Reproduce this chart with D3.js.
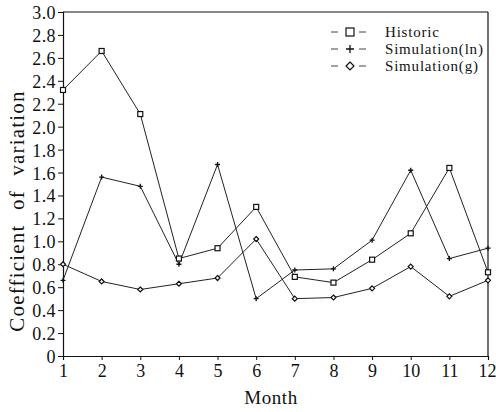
<!DOCTYPE html>
<html>
<head>
<meta charset="UTF-8" />
<script src="https://cdn.jsdelivr.net/npm/d3@7"></script>
<style>
  body { margin: 0; background: #fff; }
  text { font-family: "Liberation Serif", "DejaVu Serif", serif; fill: #111; }
</style>
</head>
<body>
<script>
    let w = 496;
    let h = 412;

    // data
    const months = [1, 2, 3, 4, 5, 6, 7, 8, 9, 10, 11, 12];
    const historic = [2.32, 2.66, 2.11, 0.85, 0.94, 1.30, 0.69, 0.64, 0.84, 1.07, 1.64, 0.73];
    const simLn = [0.66, 1.56, 1.48, 0.80, 1.67, 0.50, 0.75, 0.76, 1.01, 1.62, 0.85, 0.94];
    const simG = [0.80, 0.65, 0.58, 0.63, 0.68, 1.02, 0.50, 0.51, 0.59, 0.78, 0.52, 0.66];
    const yTicks = [0, 0.2, 0.4, 0.6, 0.8, 1.0, 1.2, 1.4, 1.6, 1.8, 2.0, 2.2, 2.4, 2.6, 2.8, 3.0];
    const seriesNames = ["Historic", "Simulation(ln)", "Simulation(g)"];

    let svg = d3.select("body").append("svg")
        .attr("width", w)
        .attr("height", h);

    let x = d3.scaleLinear().domain([1, 12]).range([63, 488]);
    let y = d3.scaleLinear().domain([0, 3]).range([356, 12]);

    // frame: top and right
    svg.append("line").attr("x1", 63).attr("x2", 488).attr("y1", 12).attr("y2", 12)
        .attr("stroke", "#111").attr("stroke-width", 1.2);
    svg.append("line").attr("x1", 488).attr("x2", 488).attr("y1", 12).attr("y2", 356)
        .attr("stroke", "#111").attr("stroke-width", 1.2);

    // axes
    let yAxis = svg.append("g")
        .attr("transform", "translate(63,0)")
        .call(d3.axisLeft(y).tickValues(yTicks).tickSize(5).tickPadding(2)
            .tickFormat(d => d === 0 ? "0" : d3.format(".1f")(d)));
    let xAxis = svg.append("g")
        .attr("transform", "translate(0,356)")
        .call(d3.axisBottom(x).tickValues(months).tickSize(4).tickPadding(4)
            .tickFormat(d3.format("d")));

    [xAxis, yAxis].forEach(a => {
        a.select(".domain").attr("stroke", "#111").attr("stroke-width", 1.2);
        a.selectAll(".tick line").attr("stroke", "#111");
        a.selectAll(".tick text")
            .attr("font-family", "'Liberation Serif', serif")
            .attr("font-size", 18)
            .attr("fill", "#111");
    });
    yAxis.selectAll(".tick text").attr("dy", "0.36em").attr("letter-spacing", 0.4);
    // keep "12" inside the picture
    xAxis.selectAll(".tick text").filter(d => d === 12).attr("dx", "-1px");

    // axis titles
    svg.append("text")
        .attr("x", 271).attr("y", 404)
        .attr("text-anchor", "middle")
        .attr("font-size", 19)
        .attr("letter-spacing", 0.6)
        .text("Month");
    svg.append("text")
        .attr("transform", "translate(24,211) rotate(-90)")
        .attr("text-anchor", "middle")
        .attr("font-size", 21)
        .attr("letter-spacing", 1.2)
        .attr("word-spacing", 8)
        .text("Coefficient of variation");

    let line = d3.line()
        .x((d, i) => x(months[i]))
        .y(d => y(d));

    let allSeries = [historic, simLn, simG];
    allSeries.forEach(s => {
        svg.append("path")
            .datum(s)
            .attr("d", line)
            .attr("fill", "none")
            .attr("stroke", "#222")
            .attr("stroke-width", 1);
    });

    // markers
    function marker(g, type, cx, cy, size) {
        if (type === 0) {
            g.append("rect").attr("x", cx - size / 2).attr("y", cy - size / 2)
                .attr("width", size).attr("height", size)
                .attr("fill", "#fff").attr("stroke", "#111").attr("stroke-width", 1.2);
        } else if (type === 1) {
            g.append("path")
                .attr("d", `M${cx - size / 2},${cy}H${cx + size / 2}M${cx},${cy - size / 2}V${cy + size / 2}`)
                .attr("stroke", "#111").attr("stroke-width", 1.3);
        } else {
            g.append("path")
                .attr("d", `M${cx},${cy - size / 2}L${cx + size / 2},${cy}L${cx},${cy + size / 2}L${cx - size / 2},${cy}Z`)
                .attr("fill", "#fff").attr("stroke", "#111").attr("stroke-width", 1.2);
        }
    }

    let mk = svg.append("g");
    allSeries.forEach((s, k) => {
        s.forEach((v, i) => marker(mk, k, x(months[i]), y(v), 5));
    });

    // legend
    let leg = svg.append("g");
    seriesNames.forEach((name, k) => {
        let ly = 32 + k * 17;
        leg.append("line").attr("x1", 331).attr("x2", 338).attr("y1", ly).attr("y2", ly)
            .attr("stroke", "#444");
        leg.append("line").attr("x1", 359).attr("x2", 366).attr("y1", ly).attr("y2", ly)
            .attr("stroke", "#444");
        marker(leg, k, 350, ly, 8);
        leg.append("text")
            .attr("x", 385).attr("y", ly + 5)
            .attr("font-size", 15)
            .attr("letter-spacing", 0.8)
            .text(name);
    });
</script>
</body>
</html>
